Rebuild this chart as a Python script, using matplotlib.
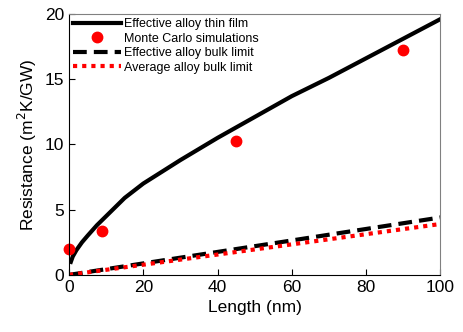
import matplotlib
matplotlib.use("Agg")
import matplotlib.pyplot as plt

plt.rcParams['font.family'] = ['Liberation Sans', 'DejaVu Sans']

# thin film curve
film_x = [0.5, 1, 2, 3.5, 5, 7.5, 10, 15, 20, 30, 40, 50, 60, 70, 80, 90, 100]
film_y = [1.0, 1.4, 1.9, 2.5, 3.0, 3.8, 4.5, 5.9, 7.0, 8.8, 10.5, 12.1, 13.7, 15.1, 16.6, 18.1, 19.6]

# Monte Carlo points
mc_x = [0, 9, 45, 90]
mc_y = [2.0, 3.4, 10.3, 17.2]

# bulk limits (straight lines)
bulk_x = [0, 100]
eff_bulk_y = [0.0, 4.4]
avg_bulk_y = [0.0, 3.9]

fig = plt.figure(figsize=(4.63, 3.32), dpi=100)
ax = fig.add_axes([0.149, 0.172, 0.802, 0.786])

ax.plot(film_x, film_y, color="black", lw=3, label="Effective alloy thin film")
ax.plot(mc_x, mc_y, "o", color="red", ms=7.5, clip_on=False, label="Monte Carlo simulations")
ax.plot(bulk_x, eff_bulk_y, color="black", lw=3, dashes=(3.3, 1.7), label="Effective alloy bulk limit")
ax.plot(bulk_x, avg_bulk_y, color="red", lw=3, dashes=(1, 1.2), label="Average alloy bulk limit")

ax.set_xlim(0, 100)
ax.set_ylim(0, 20)
ax.set_xticks([0, 20, 40, 60, 80, 100])
ax.set_yticks([0, 5, 10, 15, 20])
ax.tick_params(direction="in", labelsize=12.5, length=4, top=False, right=False)
for s in ["top", "right"]:
    ax.spines[s].set_color("gray")
ax.set_xlabel("Length (nm)", fontsize=12.5)
ax.set_ylabel("Resistance (m$^2$K/GW)", fontsize=12.5)

ax.legend(loc="upper left", frameon=False, fontsize=9.0, handlelength=3.8,
          handletextpad=0.25, labelspacing=0.2, borderaxespad=0.25,
          borderpad=0.1)

fig.savefig("out.png", dpi=100)
